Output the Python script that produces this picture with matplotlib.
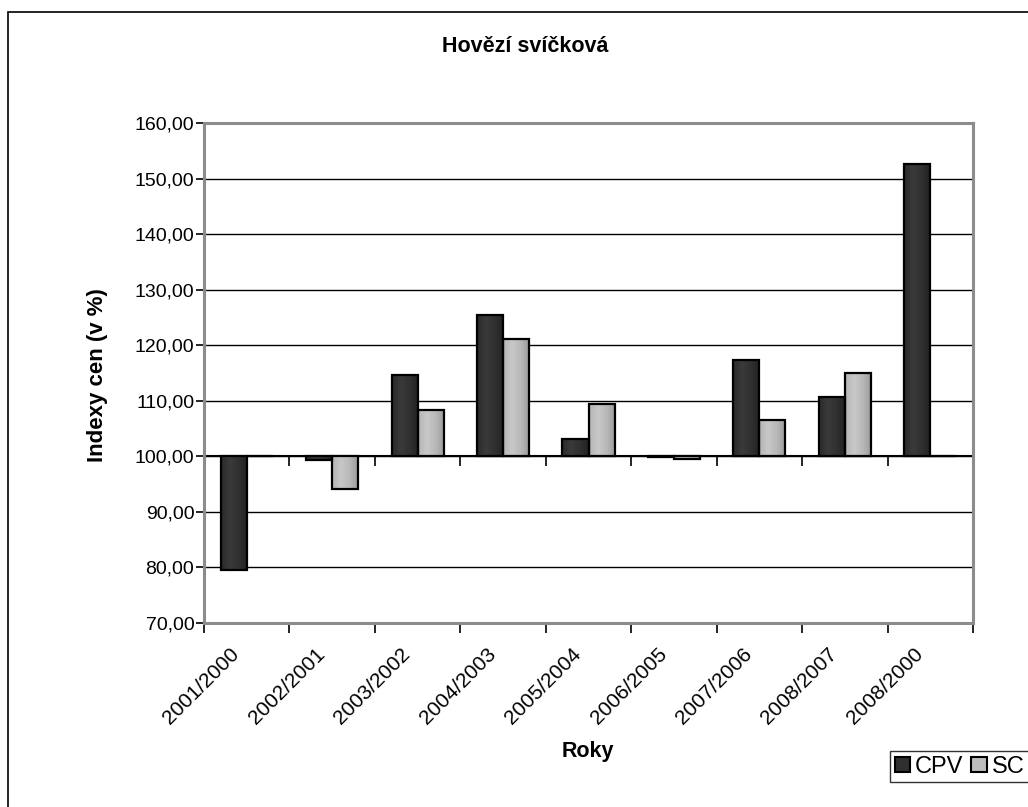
import matplotlib
matplotlib.use("Agg")
import matplotlib.pyplot as plt
import numpy as np
from matplotlib.patches import Rectangle
from matplotlib.ticker import FuncFormatter, FixedLocator
from matplotlib.colors import LinearSegmentedColormap
from matplotlib.transforms import ScaledTranslation

plt.rcParams['font.family'] = ['Liberation Sans', 'DejaVu Sans']

categories = ["2001/2000", "2002/2001", "2003/2002", "2004/2003", "2005/2004",
              "2006/2005", "2007/2006", "2008/2007", "2008/2000"]
cpv = [79.6, 99.4, 114.7, 125.5, 103.1, 99.9, 117.4, 110.7, 152.6]
sc = [100.0, 94.2, 108.3, 121.2, 109.4, 99.6, 106.5, 115.0, 100.0]
series_names = ["CPV", "SC"]
title = "Hovězí svíčková"
ylabel = "Indexy cen (v %)"
xlabel = "Roky"
base = 100.0
ymin, ymax = 70, 160

W, H = 1028, 807
fig = plt.figure(figsize=(W/100, H/100), dpi=100)
fig.patches.append(Rectangle((8/W, -0.02), 1.05, 1 - 12/H + 0.02, transform=fig.transFigure,
                             fill=False, edgecolor='black', linewidth=1.2, zorder=0))

ax = fig.add_axes([204/W, 1 - 623/H, (973 - 204)/W, (623 - 123)/H])
x = np.arange(len(categories))
w = 0.305

cmaps = {
    "CPV": LinearSegmentedColormap.from_list("cpv", ["#2a2a2a", "#3a3a3a", "#303030", "#222222"]),
    "SC": LinearSegmentedColormap.from_list("sc", ["#b4b4b4", "#c8c8c8", "#b8b8b8", "#9a9a9a"]),
}
base_colors = {"CPV": "#2f2f2f", "SC": "#bdbdbd"}
grad = np.linspace(0, 1, 64).reshape(1, -1)

for offs, vals, name in [(-w/2, cpv, "CPV"), (w/2, sc, "SC")]:
    bars = ax.bar(x + offs, np.array(vals) - base, width=w, bottom=base,
                  color=base_colors[name], edgecolor='none', label=name, zorder=3)
    for b in bars:
        x0, y0 = b.get_x(), b.get_y()
        x1, y1 = x0 + b.get_width(), y0 + b.get_height()
        if abs(y1 - y0) > 1e-9:
            im = ax.imshow(grad, cmap=cmaps[name], aspect='auto',
                           extent=(x0, x1, min(y0, y1), max(y0, y1)), zorder=3.2,
                           interpolation='bilinear')
            im.set_clip_path(b)
    ax.bar(x + offs, np.array(vals) - base, width=w, bottom=base,
           facecolor='none', edgecolor='black', linewidth=1.6, zorder=4)

ax.set_xlim(-0.5, len(categories) - 0.5)
ax.set_ylim(ymin, ymax)
ax.set_yticks(np.arange(ymin, ymax + 1, 10))
ax.yaxis.set_major_formatter(FuncFormatter(lambda v, p: f"{v:.2f}".replace('.', ',')))
ax.yaxis.grid(True, color='black', linewidth=1.0, zorder=1)
ax.set_axisbelow(True)

for s in ax.spines.values():
    s.set_color('#8c8c8c')
    s.set_linewidth(2.2)

ax.xaxis.set_major_locator(FixedLocator(np.arange(-0.5, len(categories) + 0.5, 1)))
ax.set_xticklabels([], minor=False)
ax.set_xticks(x, categories, minor=True)
ax.tick_params(axis='x', which='major', direction='out', length=7.5, width=1.2, color='black')
ax.tick_params(axis='x', which='minor', length=0, labelsize=15, pad=0)
offset = ScaledTranslation(-17/100, -21/100, fig.dpi_scale_trans)
for lab in ax.get_xticklabels(minor=True):
    lab.set_rotation(45)
    lab.set_ha('right')
    lab.set_rotation_mode('anchor')
    lab.set_transform(lab.get_transform() + offset)
ax.tick_params(axis='y', direction='out', length=6, width=1.2, color='black', labelsize=14, pad=1)

sec = ax.secondary_xaxis((base - ymin) / (ymax - ymin))
sec.set_xticks(np.arange(-0.5, len(categories) + 0.5, 1))
sec.set_xticklabels([])
sec.tick_params(axis='x', direction='out', length=7.5, width=1.2, color='black')
sec.spines['bottom'].set_color('black')
sec.spines['bottom'].set_linewidth(1.5)

fig.text(525/W, 1 - 46/H, title, ha='center', va='center', fontsize=15.5, fontweight='bold')
fig.text(97/W, 1 - 375/H, ylabel, ha='center', va='center', rotation=90,
         fontsize=16, fontweight='bold')
fig.text(562/W, 1 - 757/H, xlabel, ha='left', va='baseline', fontsize=15.5, fontweight='bold')

leg = fig.legend(loc='upper left', bbox_to_anchor=(890/W, 1 - 751/H), ncol=2,
                 fontsize=17, frameon=True, fancybox=False, handlelength=0.65, handleheight=0.65,
                 handletextpad=0.2, columnspacing=0.35, borderpad=0.2, borderaxespad=0)
leg.get_frame().set_edgecolor('black')
leg.get_frame().set_linewidth(1.0)
for h in leg.legend_handles:
    h.set_edgecolor('black')
    h.set_linewidth(1.5)

fig.savefig("out.png", dpi=100)
